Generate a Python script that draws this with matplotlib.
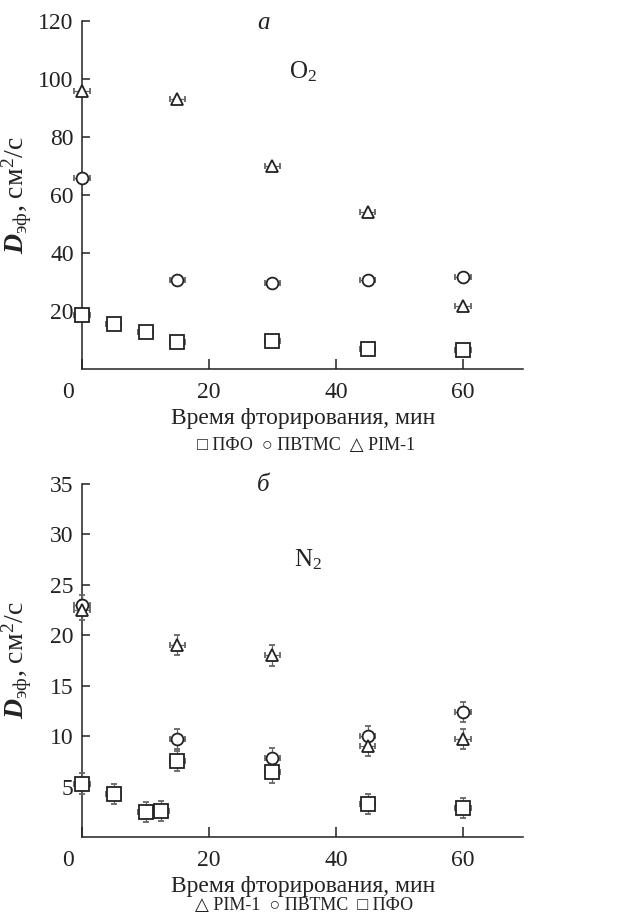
"""
Effective diffusion coefficient vs fluorination time (O2 and N2 panels).
"""
import matplotlib
matplotlib.use('Agg')
import matplotlib.pyplot as plt
from matplotlib.transforms import ScaledTranslation

plt.rcParams['font.family'] = ['Liberation Serif', 'DejaVu Sans']
plt.rcParams['mathtext.fontset'] = 'custom'
plt.rcParams['mathtext.rm'] = 'Liberation Serif'
plt.rcParams['mathtext.it'] = 'Liberation Serif:italic'
plt.rcParams['mathtext.bf'] = 'Liberation Serif:bold'
plt.rcParams['mathtext.bfit'] = 'Liberation Serif:italic:bold'

# --- panel a: O2 ---
o2_pfo_t = [0, 5, 10, 15, 30, 45, 60]
o2_pfo_d = [18.5, 15.6, 12.7, 9.2, 9.7, 7.0, 6.7]
o2_pvtms_t = [0, 15, 30, 45, 60]
o2_pvtms_d = [66.0, 30.7, 29.6, 30.7, 31.7]
o2_pim_t = [0, 15, 30, 45, 60]
o2_pim_d = [96.0, 93.0, 70.0, 54.0, 21.8]

# --- panel b: N2 ---
n2_pfo_t = [0, 5, 10, 12.5, 15, 30, 45, 60]
n2_pfo_d = [5.3, 4.3, 2.5, 2.6, 7.5, 6.4, 3.3, 2.9]
n2_pvtms_t = [0, 15, 30, 45, 60]
n2_pvtms_d = [23.0, 9.7, 7.8, 10.0, 12.4]
n2_pim_t = [0, 15, 30, 45, 60]
n2_pim_d = [22.5, 19.0, 18.0, 9.0, 9.7]

x_err = 1.2
n2_y_err = 1.0

ylabel = r'$\mathbfit{D}_{\mathrm{эф}}$, см$^2$/с'
xlabel = 'Время фторирования, мин'

fig = plt.figure(figsize=(6.17, 9.21), dpi=100)
ax1 = fig.add_axes([0.133, 0.5993, 0.715, 0.3779])
ax2 = fig.add_axes([0.133, 0.0912, 0.715, 0.3833])

mk = dict(mfc='white', mec='#222222', mew=1.3, ls='none', clip_on=False,
          ecolor='#666666', elinewidth=0.9, capsize=2.2, capthick=0.9, zorder=3)


def style_axis(ax, ymax, yticks):
    ax.set_xlim(0, 69.5)
    ax.set_ylim(0, ymax)
    ax.set_xticks([0, 20, 40, 60])
    ax.set_yticks(yticks)
    for s in ('top', 'right'):
        ax.spines[s].set_visible(False)
    for s in ('left', 'bottom'):
        ax.spines[s].set_linewidth(1.1)
        ax.spines[s].set_color('#222222')
    ax.tick_params(axis='x', direction='in', length=7, width=1.1, pad=9,
                   labelsize=17, colors='#222222')
    ax.tick_params(axis='y', direction='in', length=6, width=1.1, pad=6,
                   labelsize=17, colors='#222222')
    # the "0" sits a little left of the origin in the source
    lab0 = ax.get_xticklabels()[0]
    lab0.set_transform(lab0.get_transform() + ScaledTranslation(-0.14, 0, fig.dpi_scale_trans))
    ax.set_xlabel(xlabel, fontsize=17, labelpad=4, color='#222222')
    ax.set_ylabel(ylabel, fontsize=20, color='#222222')
    ax.yaxis.set_label_coords(-0.11, 0.5)


# panel a
ax1.errorbar(o2_pfo_t, o2_pfo_d, xerr=x_err, marker='s', ms=9.5, **mk)
ax1.errorbar(o2_pvtms_t, o2_pvtms_d, xerr=x_err, marker='o', ms=8.5, **mk)
ax1.errorbar(o2_pim_t, o2_pim_d, xerr=x_err, marker='^', ms=8.5, **mk)
style_axis(ax1, 120, [20, 40, 60, 80, 100, 120])
fig.text(263 / 617, 1 - 23 / 921, 'а', fontsize=18, style='italic',
         ha='center', va='center', color='#222222')
fig.text(303 / 617, 1 - 72 / 921, 'O$_2$', fontsize=18,
         ha='center', va='center', color='#222222')
fig.text(306 / 617, 1 - 445 / 921, '□ ПФО  ○ ПВТМС  △ PIM-1', fontsize=13,
         ha='center', va='center', color='#222222')

# panel b
ax2.errorbar(n2_pfo_t, n2_pfo_d, xerr=x_err, yerr=n2_y_err, marker='s', ms=9.5, **mk)
ax2.errorbar(n2_pvtms_t, n2_pvtms_d, xerr=x_err, yerr=n2_y_err, marker='o', ms=8.5, **mk)
ax2.errorbar(n2_pim_t, n2_pim_d, xerr=x_err, yerr=n2_y_err, marker='^', ms=8.5, **mk)
style_axis(ax2, 35, [5, 10, 15, 20, 25, 30, 35])
fig.text(263 / 617, 1 - 485 / 921, 'б', fontsize=18, style='italic',
         ha='center', va='center', color='#222222')
fig.text(308 / 617, 1 - 560 / 921, 'N$_2$', fontsize=18,
         ha='center', va='center', color='#222222')
fig.text(304 / 617, 1 - 905 / 921, '△ PIM-1  ○ ПВТМС  □ ПФО', fontsize=13,
         ha='center', va='center', color='#222222')

fig.savefig('out.png', dpi=100)
